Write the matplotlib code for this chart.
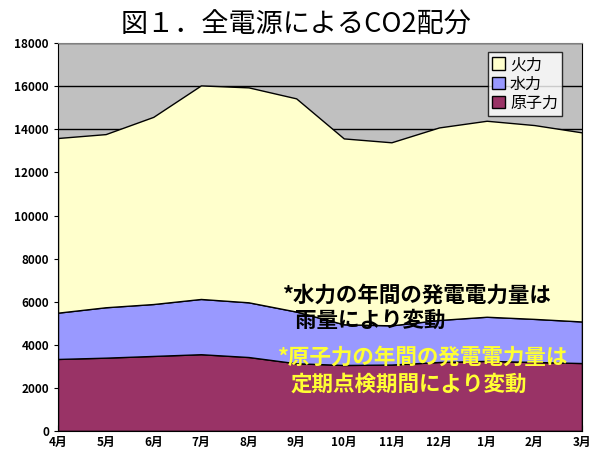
import matplotlib.pyplot as plt
import numpy as np

plt.rcParams['font.family'] = ['Noto Sans CJK JP', 'DejaVu Sans']

months = ["4月", "5月", "6月", "7月", "8月", "9月", "10月", "11月", "12月", "1月", "2月", "3月"]
nuclear = [3340, 3400, 3480, 3560, 3430, 3140, 3060, 3080, 3200, 3250, 3200, 3150]
hydro = [2150, 2340, 2410, 2565, 2540, 2400, 1890, 1820, 1950, 2050, 2000, 1930]
thermal = [8110, 8040, 8690, 9915, 9980, 9900, 8630, 8500, 8940, 9100, 9000, 8780]

x = np.arange(len(months))

fig = plt.figure(figsize=(5.92, 4.55), dpi=100)
ax = fig.add_axes([0.098, 0.053, 0.885, 0.852])
ax.set_facecolor("#C0C0C0")

polys = ax.stackplot(x, nuclear, hydro, thermal,
                     colors=["#993366", "#9999FF", "#FFFFCC"],
                     labels=["原子力", "水力", "火力"],
                     edgecolor="black", linewidth=1, zorder=2)

ax.set_xlim(0, 11)
ax.set_ylim(0, 18000)
ax.set_yticks(range(0, 18001, 2000))
ax.yaxis.grid(True, color="black", linewidth=1, zorder=1)
ax.set_axisbelow(True)
ax.set_xticks(x)
ax.set_xticklabels(months)
ax.tick_params(axis="x", direction="in", length=4, labelsize=8.5, pad=4)
ax.tick_params(axis="y", direction="out", length=3, labelsize=8.5)
for lab in ax.get_xticklabels() + ax.get_yticklabels():
    lab.set_fontweight("bold")
for s in ax.spines.values():
    s.set_color("black")
ax.spines["top"].set_color("#808080")

fig.text(0.50, 0.945, "図１．全電源によるCO2配分", ha="center", va="center", fontsize=19.5)

h, l = ax.get_legend_handles_labels()
leg = ax.legend(h[::-1], l[::-1], loc="upper right", bbox_to_anchor=(0.962, 0.977),
                fontsize=11.5, frameon=True, fancybox=False, edgecolor="black",
                handlelength=0.8, handleheight=0.8, handletextpad=0.3,
                borderpad=0.25, labelspacing=0.15, borderaxespad=0)
leg.get_frame().set_linewidth(1)

ax.text(4.72, 6310, "*水力の年間の発電電力量は", fontsize=15.5, fontweight="bold",
        color="black", va="center", zorder=5)
ax.text(4.97, 5150, "雨量により変動", fontsize=15.5, fontweight="bold",
        color="black", va="center", zorder=5)
ax.text(4.62, 3430, "*原子力の年間の発電電力量は", fontsize=15.5, fontweight="bold",
        color="#FFFF33", va="center", zorder=5)
ax.text(4.89, 2180, "定期点検期間により変動", fontsize=15.5, fontweight="bold",
        color="#FFFF33", va="center", zorder=5)

fig.savefig("out.png", dpi=100)
